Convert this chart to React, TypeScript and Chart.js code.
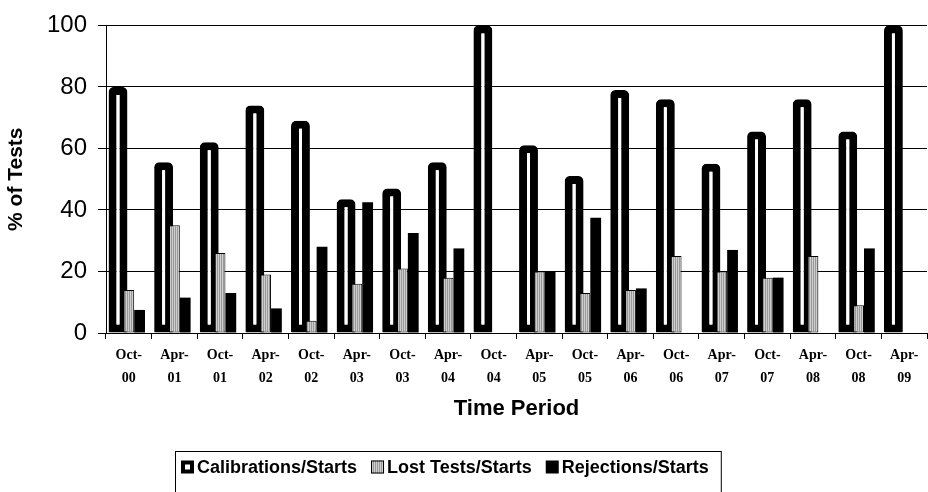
import React, { useEffect, useRef } from "react";
import { Chart, registerables } from "chart.js";

Chart.register(...registerables);

// ---------- data ----------
const periods = [
  "Oct-00", "Apr-01", "Oct-01", "Apr-02", "Oct-02", "Apr-03", "Oct-03", "Apr-04", "Oct-04",
  "Apr-05", "Oct-05", "Apr-06", "Oct-06", "Apr-07", "Oct-07", "Apr-08", "Oct-08", "Apr-09",
];
const calibrations = [80, 55.5, 62, 74, 69, 43.5, 47, 55.5, 100, 61, 51, 79, 76, 55, 65.5, 76, 65.5, 100];
const lostTests = [14, 35, 26, 19, 4, 16, 21, 18, null, 20, 13, 14, 25, 20, 18, 25, 9, null];
const rejections = [7.5, 11.5, 13, 8, 28, 42.5, 32.5, 27.5, null, 20, 37.5, 14.5, null, 27, 18, null, 27.5, null];
const yTicks = [0, 20, 40, 60, 80, 100];
const seriesNames = ["Calibrations/Starts", "Lost Tests/Starts", "Rejections/Starts"];
const yTitle = "% of Tests";
const xTitle = "Time Period";

function makeStripePattern(): CanvasPattern | string {
  const c = document.createElement("canvas");
  c.width = 2;
  c.height = 1;
  const g = c.getContext("2d");
  if (!g) return "#b4b4b4";
  g.fillStyle = "#cecece";
  g.fillRect(0, 0, 1, 1);
  g.fillStyle = "#999999";
  g.fillRect(1, 0, 1, 1);
  return g.createPattern(c, "repeat") || "#b4b4b4";
}

export default function App() {
  const ref = useRef<HTMLCanvasElement | null>(null);

  useEffect(() => {
    if (!ref.current) return;
    const stripes = makeStripePattern();

    // draw datasets in array order so later series sit on top of the wide calibration bars
    const forwardOrderPlugin = {
      id: "forwardOrder",
      beforeDatasetsDraw(chart: any) {
        const ctx = chart.ctx as CanvasRenderingContext2D;
        ctx.save();
        for (let i = 0; i < chart.data.datasets.length; i++) {
          const meta = chart.getDatasetMeta(i);
          if (meta && meta.controller) meta.controller.draw();
        }
        ctx.restore();
        return false;
      },
    };

    const legendPlugin = {
      id: "boxLegend",
      afterDraw(chart: any) {
        const ctx = chart.ctx as CanvasRenderingContext2D;
        ctx.save();
        ctx.font = 'bold 18px "Liberation Sans", Arial, sans-serif';
        ctx.textBaseline = "middle";
        ctx.textAlign = "left";
        const marker = 13;
        const gapMarker = 3;
        const gapItem = 14;
        const boxLeft = 175;
        const boxTop = 451;
        const cy = 467;
        const widths = seriesNames.map((n) => ctx.measureText(n).width);
        let x = boxLeft + 6;
        const itemsX: number[] = [];
        widths.forEach((w) => {
          itemsX.push(x);
          x += marker + gapMarker + w + gapItem;
        });
        const boxRight = x - gapItem + 12;
        ctx.strokeStyle = "#000";
        ctx.lineWidth = 1;
        ctx.strokeRect(boxLeft + 0.5, boxTop + 0.5, boxRight - boxLeft, 60);
        seriesNames.forEach((name, i) => {
          const mx = itemsX[i];
          const my = cy - marker / 2;
          if (i === 0) {
            ctx.fillStyle = "#000";
            ctx.fillRect(mx, my, marker, marker);
            ctx.fillStyle = "#fff";
            ctx.fillRect(mx + 4, my + 4, marker - 8, marker - 8);
          } else if (i === 1) {
            ctx.fillStyle = stripes as any;
            ctx.fillRect(mx, my, marker, marker);
            ctx.strokeStyle = "#000";
            ctx.strokeRect(mx + 0.5, my + 0.5, marker - 1, marker - 1);
          } else {
            ctx.fillStyle = "#000";
            ctx.fillRect(mx, my, marker, marker);
          }
          ctx.fillStyle = "#000";
          ctx.fillText(name, mx + marker + gapMarker, cy + 1);
        });
        ctx.restore();
      },
    };

    const chart = new Chart(ref.current, {
      type: "bar",
      data: {
        labels: periods.map((p) => {
          const [m, y] = p.split("-");
          return [m + "-", y];
        }),
        datasets: [
          {
            label: seriesNames[0],
            data: calibrations,
            backgroundColor: "#ffffff",
            borderColor: "#000000",
            borderWidth: 8,
            borderSkipped: false,
            borderRadius: { topLeft: 5, topRight: 5, bottomLeft: 1, bottomRight: 1 },
            barPercentage: 1.75,
            categoryPercentage: 0.71,
          },
          {
            label: seriesNames[1],
            data: lostTests,
            backgroundColor: stripes as any,
            borderColor: "#000000",
            borderWidth: 1,
            borderSkipped: false,
            barPercentage: 1,
            categoryPercentage: 0.71,
          },
          {
            label: seriesNames[2],
            data: rejections,
            backgroundColor: "#000000",
            borderColor: "#000000",
            borderWidth: 0,
            barPercentage: 1,
            categoryPercentage: 0.71,
          },
        ],
      },
      options: {
        responsive: false,
        animation: false,
        layout: { padding: { top: 22, right: 1, bottom: 64, left: 0 } },
        plugins: {
          legend: { display: false },
          tooltip: { enabled: false },
        },
        scales: {
          x: {
            grid: { display: true, drawOnChartArea: false, color: "#000", tickLength: 6, offset: true, lineWidth: 1 },
            border: { display: true, color: "#000", width: 1 },
            ticks: {
              color: "#000",
              autoSkip: false,
              maxRotation: 0,
              minRotation: 0,
              padding: 5,
              font: { family: '"Liberation Serif", "Times New Roman", serif', size: 14, weight: "bold", lineHeight: 1.65 },
            },
            title: {
              display: true,
              text: xTitle,
              color: "#000",
              font: { family: '"Liberation Sans", Arial, sans-serif', size: 22, weight: "bold" },
              padding: { top: 4, bottom: 6 },
            },
            afterFit: (s: any) => {
              s.height = 95;
            },
          },
          y: {
            min: 0,
            max: 100,
            afterBuildTicks: (s: any) => {
              s.ticks = yTicks.map((v) => ({ value: v }));
            },
            ticks: {
              color: "#000",
              padding: 11,
              font: { family: '"Liberation Sans", Arial, sans-serif', size: 24 },
            },
            grid: { color: "#000", lineWidth: 1, tickLength: 8 },
            border: { display: true, color: "#000", width: 1 },
            title: {
              display: true,
              text: yTitle,
              color: "#000",
              font: { family: '"Liberation Sans", Arial, sans-serif', size: 21, weight: "bold" },
              padding: { top: 4, bottom: 0 },
            },
            afterFit: (s: any) => {
              s.width = 106;
            },
          },
        },
      },
      plugins: [forwardOrderPlugin, legendPlugin],
    } as any);

    return () => chart.destroy();
  }, []);

  return (
    <div style={{ position: "absolute", left: 0, top: 0, width: 928, height: 492, background: "#fff" }}>
      <canvas ref={ref} width={928} height={492} style={{ display: "block" }} />
    </div>
  );
}
